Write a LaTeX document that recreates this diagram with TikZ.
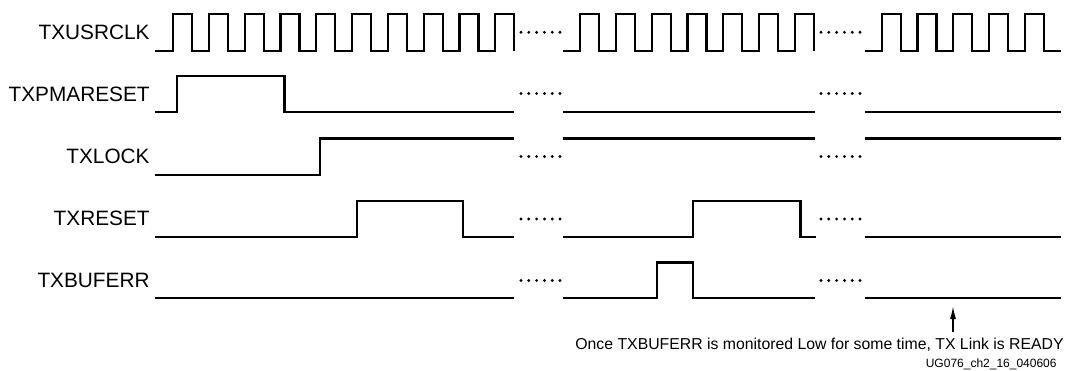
\documentclass[tikz,border=0pt]{standalone}
\usepackage{fontspec}
\setmainfont{Liberation Sans}
\usetikzlibrary{arrows.meta}

\tikzset{
  wave/.style={line width=1.1pt, line join=miter},
  sig/.style={anchor=east, inner sep=0pt, font=\fontsize{10.4}{12}\selectfont},
}

\begin{document}
\begin{tikzpicture}[x=0.5pt,y=-0.5pt]
    \path [use as bounding box] (0,0) rectangle (1080,370);
    \node [sig] (lclk)  at (150,32)  {TXUSRCLK};
    \node [sig] (lpma)  at (150,94)  {TXPMARESET};
    \node [sig] (llock) at (150,156) {TXLOCK};
    \node [sig] (lrst)  at (150,218) {TXRESET};
    \node [sig] (lerr)  at (150,280) {TXBUFERR};
    % TXUSRCLK
    \draw[wave] (155,51) -- ++(18,0)
        \foreach \k in {1,...,9} { -- ++(0,-37) -- ++(19,0) -- ++(0,37) -- ++(16.8,0)}
        -- ++(0,-37) -- ++(19,0) -- ++(0,37);
    \draw[wave] (563,51) -- ++(17,0)
        \foreach \k in {1,...,6} { -- ++(0,-37) -- ++(19,0) -- ++(0,37) -- ++(16.8,0)}
        -- ++(0,-37) -- ++(19,0) -- ++(0,37);
    \draw[wave] (865,51) -- ++(16.7,0)
        \foreach \k in {1,...,4} { -- ++(0,-37) -- ++(19,0) -- ++(0,37) -- ++(16.8,0)}
        -- ++(0,-37) -- ++(19,0) -- ++(0,37) -- ++(17.1,0);
    % TXPMARESET
    \draw[wave] (155,112) -- (177,112) -- (177,76) -- (284.5,76) -- (284.5,112) -- (514,112);
    \draw[wave] (563,112) -- (815,112) (865,112) -- (1061,112);
    % TXLOCK
    \draw[wave] (155,175) -- (320,175) -- (320,138.5) -- (514,138.5);
    \draw[wave] (563,138.5) -- (815,138.5) (865,138.5) -- (1061,138.5);
    % TXRESET
    \draw[wave] (155,237) -- (357,237) -- (357,201) -- (463,201) -- (463,237) -- (514,237);
    \draw[wave] (563,237) -- (693,237) -- (693,201) -- (800.5,201) -- (800.5,237) -- (816,237);
    \draw[wave] (865,237) -- (1061,237);
    % TXBUFERR
    \draw[wave] (155,298) -- (514,298);
    \draw[wave] (563,298) -- (657,298) -- (657,262.5) -- (693,262.5) -- (693,298) -- (815,298);
    \draw[wave] (865,298) -- (1061,298);
    % gaps
    \foreach \y in {32.3,93.5,156.5,219,280.5}
        \foreach \x in {521,821}
            \foreach \d in {0,...,5}
                \fill (\x+\d*7.8,\y) circle (0.8pt);
    \coordinate (rdy)    at (953,332);
    \coordinate (rdytip) at (953,306);
    \draw[-{Latex[length=6.5pt,width=3pt]}, line width=0.75pt] (rdy) -- (rdytip);
    \node [anchor=base east, inner sep=0pt, font=\fontsize{7.9}{9}\selectfont] (note) at (1064,349)
        {Once TXBUFERR is monitored Low for some time, TX Link is READY};
    \node [anchor=base east, inner sep=0pt, font=\fontsize{6}{7}\selectfont] (fig) at (1057,367)
        {UG076\_ch2\_16\_040606};
\end{tikzpicture}
\end{document}
